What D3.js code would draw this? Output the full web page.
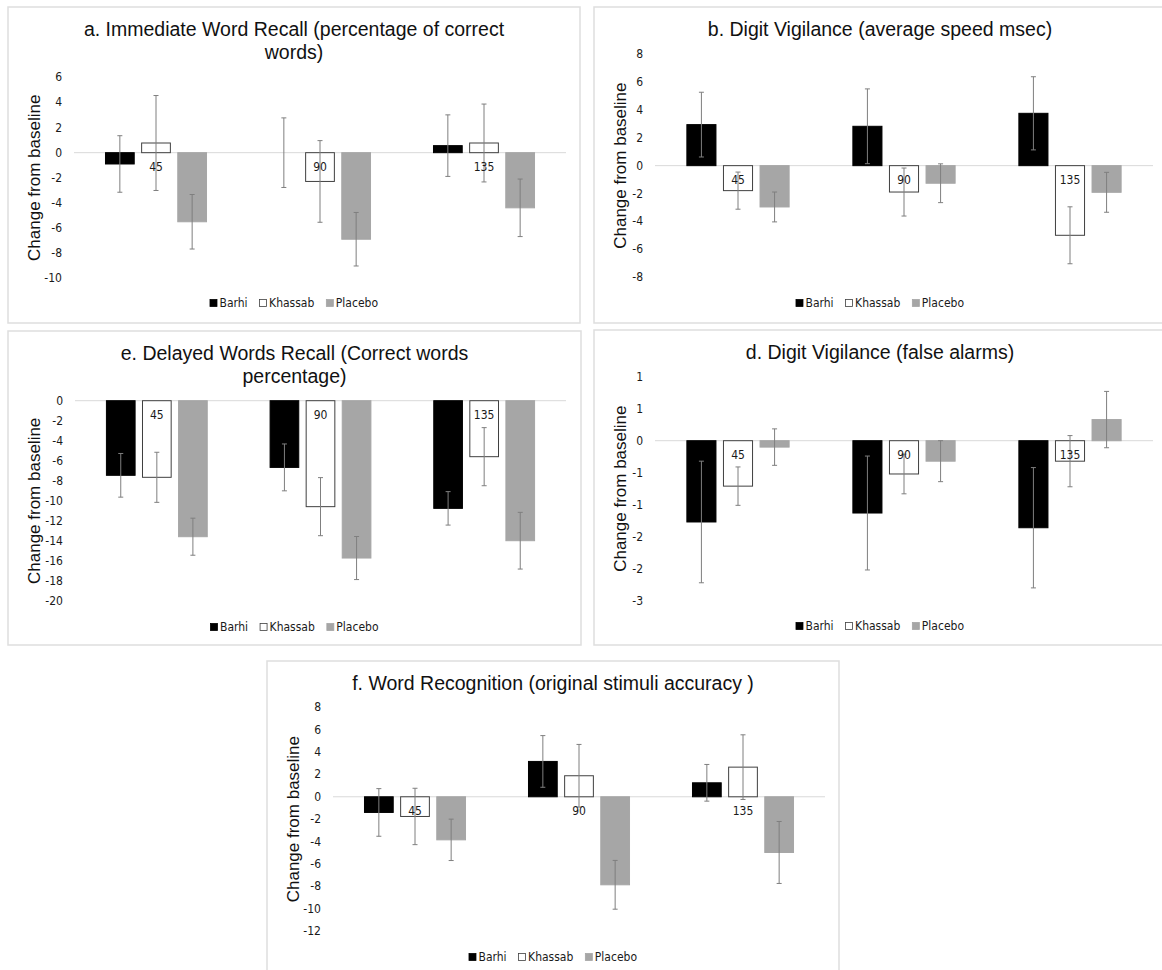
<!DOCTYPE html>
<html>
<head>
<meta charset="utf-8">
<script src="https://cdn.jsdelivr.net/npm/d3@7"></script>
<style>
    body { margin: 0; background: #ffffff; }
    svg { display: block; }
</style>
</head>
<body>
<div id="figure"></div>
<script>

// Shared categories (x axis labels) and the three groups
const categories = ['45', '90', '135'];
const groups = ['Barhi', 'Khassab', 'Placebo'];

// Rows = Barhi, Khassab, Placebo; columns = 45, 90, 135
const immediateRecallMeans = [[-0.9, 0, 0.56], [0.77, -2.29, 0.77], [-5.5, -6.89, -4.39]];
const immediateRecallErrors = [[2.25, 2.77, 2.45], [3.78, 3.25, 3.1], [2.17, 2.13, 2.29]];

const vigilanceSpeedMeans = [[2.94, 2.82, 3.75], [-1.79, -1.89, -4.99], [-2.96, -1.26, -1.91]];
const vigilanceSpeedErrors = [[2.32, 2.68, 2.62], [1.33, 1.72, 2.04], [1.07, 1.39, 1.43]];

const delayedRecallMeans = [[-7.45, -6.66, -10.75], [-7.65, -10.58, -5.59], [-13.58, -15.71, -13.98]];
const delayedRecallErrors = [[2.18, 2.34, 1.67], [2.5, 2.9, 2.9], [1.85, 2.15, 2.83]];

const falseAlarmMeans = [[-1.27, -1.13, -1.36], [-0.71, -0.52, -0.32], [-0.10, -0.32, 0.33]];
const falseAlarmErrors = [[0.95, 0.89, 0.94], [0.30, 0.31, 0.40], [0.285, 0.32, 0.44]];

const recognitionMeans = [[-1.40, 3.16, 1.25], [-1.76, 1.88, 2.65], [-3.85, -7.87, -4.98]];
const recognitionErrors = [[2.13, 2.31, 1.64], [2.52, 2.8, 2.89], [1.85, 2.18, 2.77]];

// Axis ranges and tick values
const immediateRecallTicks = d3.range(-10, 6.01, 2);
const vigilanceSpeedTicks = d3.range(-8, 8.01, 2);
const delayedRecallTicks = d3.range(-20, 0.01, 2);
const falseAlarmTicks = d3.range(-2.5, 1.01, 0.5);
const recognitionTicks = d3.range(-12, 8.01, 2);

// Excel "0" number format rounds half away from zero
const excelRound = v => String(Math.sign(v) * Math.round(Math.abs(v)));

const fillColors = {Barhi: '#000000', Khassab: '#ffffff', Placebo: '#a6a6a6'};
const strokeColors = {Barhi: '#000000', Khassab: '#404040', Placebo: '#a6a6a6'};

const svg = d3.select('#figure')
    .append('svg')
    .attr('width', 1162)
    .attr('height', 970);

class BarPanel {

    constructor(svg, config) {
        this.svg = svg;
        this.config = config;
        this.initVis();
    }

    initVis() {
        let vis = this;
        let c = vis.config;

        vis.g = vis.svg.append('g');

        // Light chart-area frame
        vis.g.append('rect')
            .attr('x', c.frame[0])
            .attr('y', c.frame[1])
            .attr('width', c.frame[2])
            .attr('height', c.frame[3])
            .attr('fill', 'white')
            .attr('stroke', '#dedede')
            .attr('stroke-width', 1.5);

        vis.x0 = d3.scaleBand()
            .domain(categories)
            .range([c.plot[0], c.plot[1]])
            .paddingInner(0.384)
            .paddingOuter(0.192);

        vis.x1 = d3.scaleBand()
            .domain(groups)
            .range([0, vis.x0.bandwidth()])
            .paddingInner(0.205);

        vis.y = d3.scaleLinear()
            .domain(d3.extent(c.ticks))
            .range([c.plot[3], c.plot[2]]);

        vis.wrangleData();
    }

    wrangleData() {
        let vis = this;
        let c = vis.config;

        // Flatten into one row per bar
        vis.displayData = [];
        groups.forEach((grp, i) => {
            categories.forEach((cat, j) => {
                vis.displayData.push({group: grp, cat: cat, mean: c.means[i][j], err: c.errors[i][j]});
            });
        });

        vis.updateVis();
    }

    updateVis() {
        let vis = this;
        let c = vis.config;
        // plain hyphen minus, like the original
        let fmt = c.format || (d => String(d));

        // Title, one or two lines
        vis.g.selectAll('.title')
            .data(c.title)
            .join('text')
            .attr('class', 'title')
            .attr('x', c.frame[0] + c.frame[2] / 2)
            .attr('y', (d, i) => c.frame[1] + 22 + i * 23)
            .attr('text-anchor', 'middle')
            .attr('dominant-baseline', 'central')
            .attr('font-family', '"Liberation Sans", Arial, sans-serif')
            .attr('font-size', 19.5)
            .attr('fill', '#111')
            .text(d => d);

        // Y axis title
        vis.g.append('text')
            .attr('transform', `translate(${c.frame[0] + 26}, ${(c.plot[2] + c.plot[3]) / 2}) rotate(-90)`)
            .attr('text-anchor', 'middle')
            .attr('dominant-baseline', 'central')
            .attr('font-family', '"Liberation Sans", Arial, sans-serif')
            .attr('font-size', 17)
            .attr('fill', '#111')
            .text('Change from baseline');

        // Tick labels only, Excel style axis has no line
        vis.g.selectAll('.tick-label')
            .data(c.ticks)
            .join('text')
            .attr('class', 'tick-label')
            .attr('x', c.plot[0] - 12)
            .attr('y', d => vis.y(d))
            .attr('text-anchor', 'end')
            .attr('dominant-baseline', 'central')
            .attr('font-family', '"Liberation Sans Narrow", "DejaVu Sans Condensed", Arial, sans-serif')
            .attr('font-size', 12)
            .attr('fill', '#1a1a1a')
            .text(fmt);

        // Zero line
        vis.g.append('line')
            .attr('x1', c.plot[0])
            .attr('x2', c.plot[1])
            .attr('y1', vis.y(0))
            .attr('y2', vis.y(0))
            .attr('stroke', '#d9d9d9')
            .attr('stroke-width', 1);

        vis.g.selectAll('.bar')
            .data(vis.displayData.filter(d => d.mean != 0))
            .join('rect')
            .attr('class', 'bar')
            .attr('x', d => vis.x0(d.cat) + vis.x1(d.group))
            .attr('width', vis.x1.bandwidth())
            .attr('y', d => vis.y(Math.max(0, d.mean)))
            .attr('height', d => Math.abs(vis.y(d.mean) - vis.y(0)))
            .attr('fill', d => fillColors[d.group])
            .attr('stroke', d => strokeColors[d.group])
            .attr('stroke-width', 1);

        // Error bars with small caps
        let cx = d => vis.x0(d.cat) + vis.x1(d.group) + vis.x1.bandwidth() / 2;
        let errs = vis.g.selectAll('.err')
            .data(vis.displayData)
            .join('g')
            .attr('class', 'err')
            .attr('stroke', '#7f7f7f')
            .attr('stroke-width', 1);

        errs.append('line')
            .attr('x1', cx).attr('x2', cx)
            .attr('y1', d => vis.y(d.mean + d.err))
            .attr('y2', d => vis.y(d.mean - d.err));
        errs.append('line')
            .attr('x1', d => cx(d) - 2.5).attr('x2', d => cx(d) + 2.5)
            .attr('y1', d => vis.y(d.mean + d.err))
            .attr('y2', d => vis.y(d.mean + d.err));
        errs.append('line')
            .attr('x1', d => cx(d) - 2.5).attr('x2', d => cx(d) + 2.5)
            .attr('y1', d => vis.y(d.mean - d.err))
            .attr('y2', d => vis.y(d.mean - d.err));

        // Category labels sit just below the zero line
        vis.g.selectAll('.cat-label')
            .data(categories)
            .join('text')
            .attr('class', 'cat-label')
            .attr('x', d => vis.x0(d) + vis.x0.bandwidth() / 2)
            .attr('y', vis.y(0) + 14)
            .attr('text-anchor', 'middle')
            .attr('dominant-baseline', 'central')
            .attr('font-family', '"Liberation Sans Narrow", "DejaVu Sans Condensed", Arial, sans-serif')
            .attr('font-size', 12)
            .attr('fill', '#1a1a1a')
            .text(d => d);

        // Legend, centred on the frame
        let legend = vis.g.append('g');
        let lx = 0;
        groups.forEach(grp => {
            legend.append('rect')
                .attr('x', lx)
                .attr('y', -3.5)
                .attr('width', 7)
                .attr('height', 7)
                .attr('fill', fillColors[grp])
                .attr('stroke', grp == 'Khassab' ? '#404040' : fillColors[grp])
                .attr('stroke-width', 0.8);
            let t = legend.append('text')
                .attr('x', lx + 9.5)
                .attr('y', 0)
                .attr('dominant-baseline', 'central')
                .attr('font-family', '"Liberation Sans Narrow", "DejaVu Sans Condensed", Arial, sans-serif')
                .attr('font-size', 12)
                .attr('fill', '#1a1a1a')
                .text(grp);
            lx += 9.5 + t.node().getComputedTextLength() + 12;
        });
        let lw = lx - 12;
        legend.attr('transform', `translate(${c.frame[0] + c.frame[2] / 2 - lw / 2}, ${c.frame[1] + 296})`);
    }
}

new BarPanel(svg, {
    title: ['a. Immediate Word Recall (percentage of correct', 'words)'],
    frame: [8, 7, 572, 316],
    plot: [74, 566, 77.3, 278.3],
    ticks: immediateRecallTicks,
    means: immediateRecallMeans,
    errors: immediateRecallErrors
});

new BarPanel(svg, {
    title: ['b. Digit Vigilance (average speed msec)'],
    frame: [594, 7, 572, 316],
    plot: [655, 1153, 54, 277.3],
    ticks: vigilanceSpeedTicks,
    means: vigilanceSpeedMeans,
    errors: vigilanceSpeedErrors
});

new BarPanel(svg, {
    title: ['e. Delayed Words Recall (Correct words', 'percentage)'],
    frame: [8, 331, 573, 314],
    plot: [75, 566, 400.7, 601],
    ticks: delayedRecallTicks,
    means: delayedRecallMeans,
    errors: delayedRecallErrors
});

new BarPanel(svg, {
    title: ['d. Digit Vigilance (false alarms)'],
    frame: [594, 330, 572, 315],
    plot: [655, 1153, 376.7, 600.7],
    ticks: falseAlarmTicks,
    means: falseAlarmMeans,
    errors: falseAlarmErrors,
    format: excelRound
});

new BarPanel(svg, {
    title: ['f. Word Recognition (original stimuli accuracy )'],
    frame: [267, 661, 572, 314],
    plot: [333, 825, 707.3, 931],
    ticks: recognitionTicks,
    means: recognitionMeans,
    errors: recognitionErrors
});

</script>
</body>
</html>
